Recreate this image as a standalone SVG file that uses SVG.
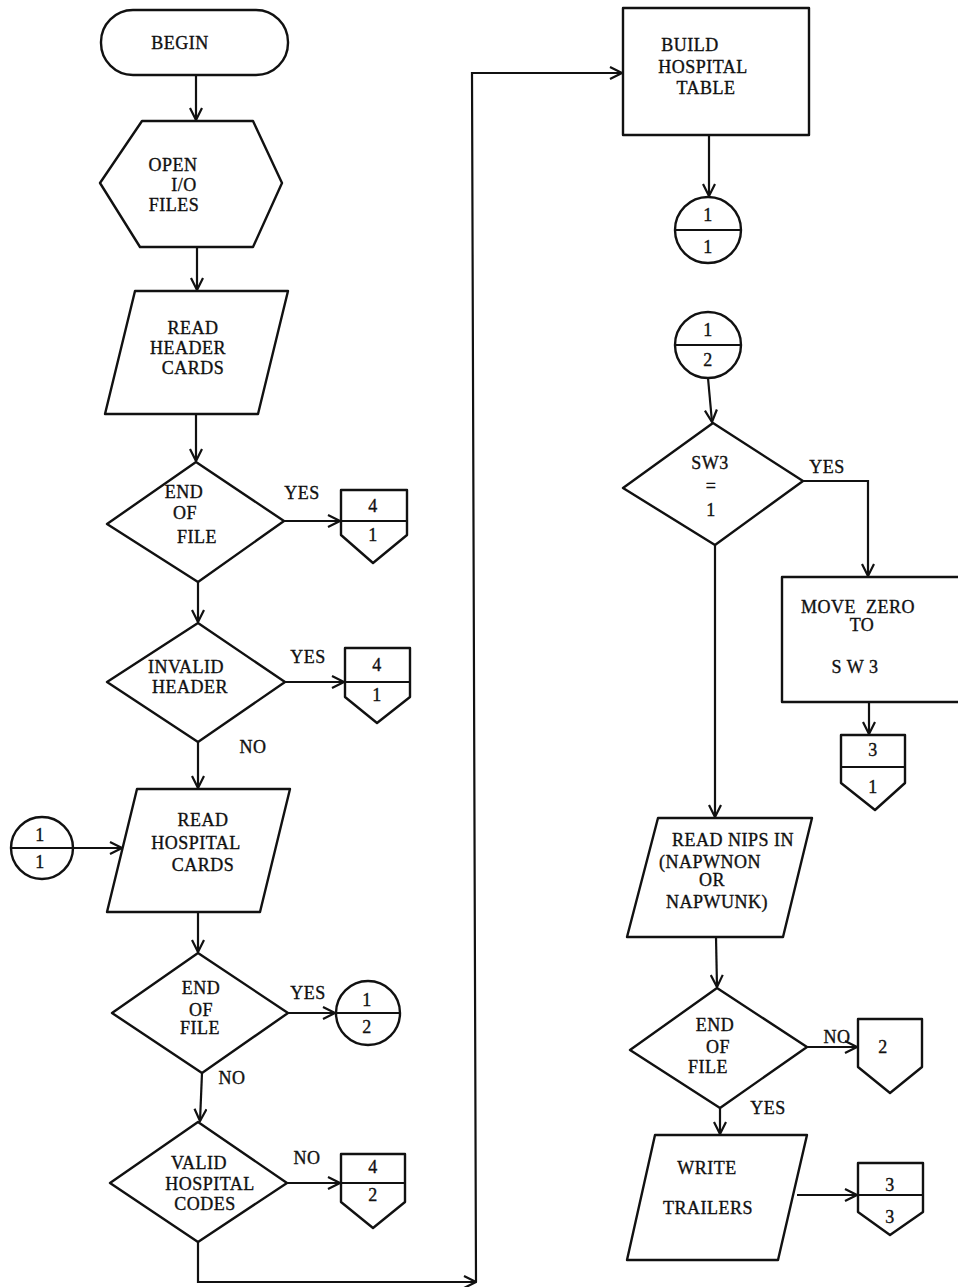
<svg xmlns="http://www.w3.org/2000/svg" width="958" height="1287" viewBox="0 0 958 1287">
<defs>
<style>
.s{fill:#fff;stroke:#111;stroke-width:2.4;stroke-linejoin:round}
.c{fill:none;stroke:#111;stroke-width:2.2;}
.d{stroke:#111;stroke-width:2.2}
text{font-family:"Liberation Serif","Times New Roman",serif;font-size:18px;fill:#111;text-anchor:middle;letter-spacing:0.5px;stroke:#111;stroke-width:0.35px}
.pre{white-space:pre}
</style>
<marker id="a" viewBox="0 0 14 14" refX="13" refY="7" markerWidth="14" markerHeight="14" markerUnits="userSpaceOnUse" orient="auto">
<path d="M1,1 L13,7 L1,13" fill="none" stroke="#111" stroke-width="2.2"/>
</marker>
</defs>
<rect width="958" height="1287" fill="#fff"/>
<g id="connectors">
<path class="c" d="M196,75 V120" marker-end="url(#a)"/>
<path class="c" d="M197,247 V290" marker-end="url(#a)"/>
<path class="c" d="M196,414 V461" marker-end="url(#a)"/>
<path class="c" d="M284,521 H340" marker-end="url(#a)"/>
<path class="c" d="M198,582 V622" marker-end="url(#a)"/>
<path class="c" d="M285,682 H344" marker-end="url(#a)"/>
<path class="c" d="M198,742 V788" marker-end="url(#a)"/>
<path class="c" d="M73,848 H122" marker-end="url(#a)"/>
<path class="c" d="M198,912 V952" marker-end="url(#a)"/>
<path class="c" d="M288,1013 H335" marker-end="url(#a)"/>
<path class="c" d="M202,1073 L200,1121" marker-end="url(#a)"/>
<path class="c" d="M287,1183 H340" marker-end="url(#a)"/>
<path class="c" d="M198,1242 V1282 H476" marker-end="url(#a)"/>
<path class="c" d="M476,1282 L472,73 H622" marker-end="url(#a)"/>
<path class="c" d="M709,135 V196" marker-end="url(#a)"/>
<path class="c" d="M708,378 L712,422" marker-end="url(#a)"/>
<path class="c" d="M803,481 H868 V576" marker-end="url(#a)"/>
<path class="c" d="M869,702 V734" marker-end="url(#a)"/>
<path class="c" d="M715,545 V817" marker-end="url(#a)"/>
<path class="c" d="M716,937 L717,987" marker-end="url(#a)"/>
<path class="c" d="M807,1047 H857" marker-end="url(#a)"/>
<path class="c" d="M720,1108 V1134" marker-end="url(#a)"/>
<path class="c" d="M797,1195 H857" marker-end="url(#a)"/>
<text x="302" y="499">YES</text>
<text x="308" y="663">YES</text>
<text x="253" y="753">NO</text>
<text x="308" y="999">YES</text>
<text x="232" y="1084">NO</text>
<text x="307" y="1164">NO</text>
<text x="827" y="473">YES</text>
<text x="837" y="1043">NO</text>
<text x="768" y="1114">YES</text>
</g>
<g id="begin">
<rect class="s" x="101" y="10" width="187" height="65" rx="32"/>
<text x="180" y="49">BEGIN</text>
</g>
<g id="open">
<polygon class="s" points="142,121 253,121 282,183 253,247 140,247 100,183"/>
<text x="173" y="171">OPEN</text>
<text x="184" y="191">I/O</text>
<text x="174" y="211">FILES</text>
</g>
<g id="readHeader">
<polygon class="s" points="135,291 288,291 258,414 105,414"/>
<text x="193" y="334">READ</text>
<text x="188" y="354">HEADER</text>
<text x="193" y="374">CARDS</text>
</g>
<g id="eof1">
<polygon class="s" points="196,462 284,521 198,582 107,524"/>
<text x="184" y="498">END</text>
<text x="185" y="519">OF</text>
<text x="197" y="543">FILE</text>
</g>
<g id="off41a">
<path class="s" d="M341,490 H407 V535 L373,563 L341,535 Z"/>
<line class="d" x1="341" y1="521" x2="407" y2="521"/>
<text x="373" y="512">4</text>
<text x="373" y="541">1</text>
</g>
<g id="invalid">
<polygon class="s" points="198,623 285,682 198,742 107,682"/>
<text x="186" y="673">INVALID</text>
<text x="190" y="693">HEADER</text>
</g>
<g id="off41b">
<path class="s" d="M345,648 H410 V697 L377,723 L345,697 Z"/>
<line class="d" x1="345" y1="682" x2="410" y2="682"/>
<text x="377" y="671">4</text>
<text x="377" y="701">1</text>
</g>
<g id="readHosp">
<polygon class="s" points="137,789 290,789 260,912 107,912"/>
<text x="203" y="826">READ</text>
<text x="196" y="849">HOSPITAL</text>
<text x="203" y="871">CARDS</text>
</g>
<g id="conn11L">
<circle class="s" cx="42" cy="848" r="31"/>
<line class="d" x1="11" y1="848" x2="73" y2="848"/>
<text x="40" y="841">1</text>
<text x="40" y="868">1</text>
</g>
<g id="eof2">
<polygon class="s" points="198,953 288,1013 202,1073 112,1013"/>
<text x="201" y="994">END</text>
<text x="201" y="1016">OF</text>
<text x="200" y="1034">FILE</text>
</g>
<g id="conn12L">
<circle class="s" cx="368" cy="1013" r="32"/>
<line class="d" x1="336" y1="1013" x2="400" y2="1013"/>
<text x="367" y="1006">1</text>
<text x="367" y="1033">2</text>
</g>
<g id="valid">
<polygon class="s" points="198,1122 287,1183 198,1242 110,1183"/>
<text x="199" y="1169">VALID</text>
<text x="210" y="1190">HOSPITAL</text>
<text x="205" y="1210">CODES</text>
</g>
<g id="off42">
<path class="s" d="M341,1154 H405 V1202 L373,1228 L341,1202 Z"/>
<line class="d" x1="341" y1="1183" x2="405" y2="1183"/>
<text x="373" y="1173">4</text>
<text x="373" y="1201">2</text>
</g>
<g id="build">
<rect class="s" x="623" y="8" width="186" height="127"/>
<text x="690" y="51">BUILD</text>
<text x="703" y="73">HOSPITAL</text>
<text x="706" y="94">TABLE</text>
</g>
<g id="conn11R">
<circle class="s" cx="708" cy="230" r="33"/>
<line class="d" x1="675" y1="230" x2="741" y2="230"/>
<text x="708" y="221">1</text>
<text x="708" y="253">1</text>
</g>
<g id="conn12R">
<circle class="s" cx="708" cy="345" r="33"/>
<line class="d" x1="675" y1="345" x2="741" y2="345"/>
<text x="708" y="336">1</text>
<text x="708" y="366">2</text>
</g>
<g id="sw3">
<polygon class="s" points="713,423 803,481 715,545 623,488"/>
<text x="710" y="469">SW3</text>
<text x="711" y="492">=</text>
<text x="711" y="516">1</text>
</g>
<g id="move">
<rect class="s" x="782" y="577" width="190" height="125"/>
<text class="pre" x="858" y="613">MOVE  ZERO</text>
<text x="862" y="631">TO</text>
<text x="855" y="673">S W 3</text>
</g>
<g id="off31">
<path class="s" d="M841,735 H905 V783 L875,810 L841,783 Z"/>
<line class="d" x1="841" y1="767" x2="905" y2="767"/>
<text x="873" y="756">3</text>
<text x="873" y="793">1</text>
</g>
<g id="readNips">
<polygon class="s" points="658,818 812,818 783,937 627,937"/>
<text x="733" y="846">READ NIPS IN</text>
<text x="710" y="868">(NAPWNON</text>
<text x="712" y="886">OR</text>
<text x="717" y="908">NAPWUNK)</text>
</g>
<g id="eof3">
<polygon class="s" points="717,988 807,1047 720,1108 630,1050"/>
<text x="715" y="1031">END</text>
<text x="718" y="1053">OF</text>
<text x="708" y="1073">FILE</text>
</g>
<g id="off2">
<path class="s" d="M858,1019 H922 V1067 L890,1093 L858,1067 Z"/>
<text x="883" y="1053">2</text>
</g>
<g id="write">
<polygon class="s" points="655,1135 807,1135 778,1260 627,1260"/>
<text x="707" y="1174">WRITE</text>
<text x="708" y="1214">TRAILERS</text>
</g>
<g id="off33">
<path class="s" d="M858,1163 H923 V1212 L890,1235 L858,1212 Z"/>
<line class="d" x1="858" y1="1195" x2="923" y2="1195"/>
<text x="890" y="1191">3</text>
<text x="890" y="1223">3</text>
</g>
</svg>
